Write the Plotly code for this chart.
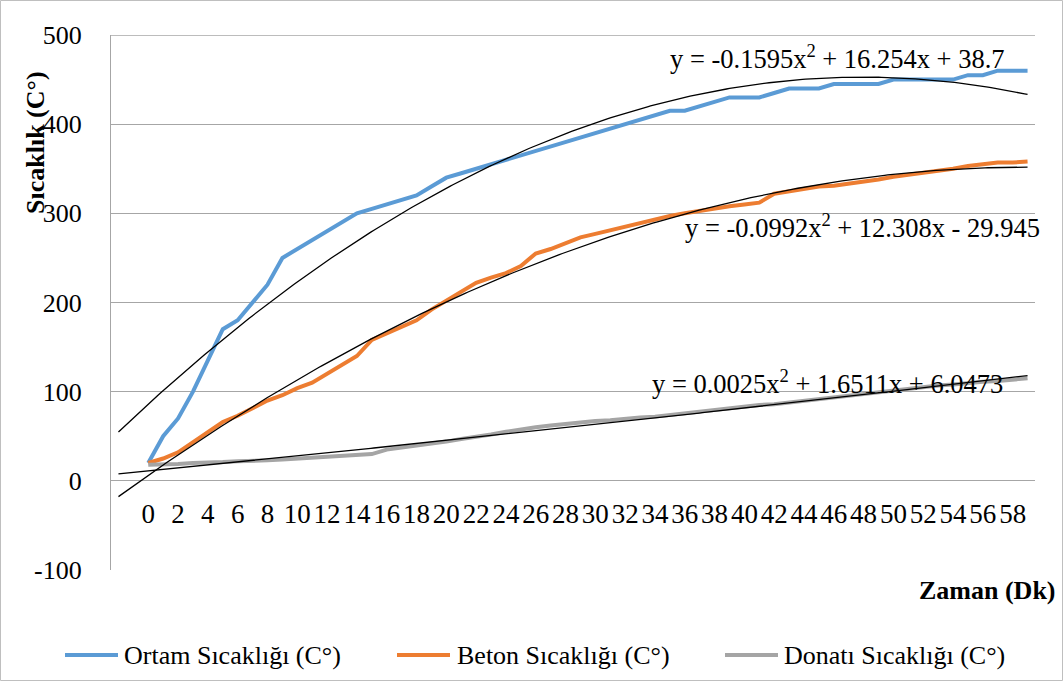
import numpy as np
import plotly.graph_objects as go

# ---- data ----
zaman = list(range(0, 60))
ortam = [20, 50, 70, 100, 135, 170, 180, 200, 220, 250,
         260, 270, 280, 290, 300, 305, 310, 315, 320, 330,
         340, 345, 350, 355, 360, 365, 370, 375, 380, 385,
         390, 395, 400, 405, 410, 415, 415, 420, 425, 430,
         430, 430, 435, 440, 440, 440, 445, 445, 445, 445,
         450, 450, 450, 450, 450, 455, 455, 460, 460, 460]
beton = [20, 25, 32, 43, 55, 66, 73, 82, 90, 96,
         104, 110, 120, 130, 140, 158, 165, 172, 180, 192,
         202, 213, 222, 228, 233, 241, 255, 260, 266, 273,
         277, 281, 285, 289, 294, 297, 300, 303, 306, 308,
         310, 312, 322, 325, 327, 330, 331, 333, 336, 338,
         341, 343, 345, 348, 350, 353, 355, 357, 357, 358]
donati = [18, 18, 19, 20, 20, 21, 22, 22, 23, 24,
          25, 26, 26, 27, 28, 30, 35, 37, 39, 42,
          44, 47, 49, 52, 55, 58, 60, 62, 64, 66,
          67, 68, 70, 71, 72, 74, 75, 77, 79, 81,
          83, 85, 86, 88, 90, 92, 94, 96, 98, 100,
          102, 104, 106, 107, 108, 110, 111, 112, 114, 115]

series_names = ["Ortam Sıcaklığı (C°)", "Beton Sıcaklığı (C°)", "Donatı Sıcaklığı (C°)"]
series_colors = ["#5B9BD5", "#ED7D31", "#A5A5A5"]

# polynomial trendline coefficients (a, b, c) as shown on chart, x = category number
trend_coefs = [(-0.1595, 16.254, 38.7), (-0.0992, 12.308, -29.945), (0.0025, 1.6511, 6.0473)]
trend_texts = ["y = -0.1595x<sup>2</sup> + 16.254x + 38.7",
               "y = -0.0992x<sup>2</sup> + 12.308x - 29.945",
               "y = 0.0025x<sup>2</sup> + 1.6511x + 6.0473"]
x_offset = 3          # excel category number = label + 3 (two leading empty categories)
trend_start = -2      # trendline drawn from first (empty) category

tick_labels = list(range(0, 60, 2))
y_ticks = [-100, 0, 100, 200, 300, 400, 500]

FONT = "Liberation Serif, Times New Roman, serif"
GRID = "#A6A6A6"

# plot-area geometry in pixels (for paper-coordinate placement of extras)
L, R, T, B = 111, 29, 35, 112
PW, PH = 1064 - L - R, 682 - T - B


def px(xp):
    return (xp - L) / PW


def py(yp):
    return 1 - (yp - T) / PH


fig = go.Figure()

for name, col, vals in zip(series_names, series_colors, [ortam, beton, donati]):
    fig.add_trace(go.Scatter(x=zaman, y=vals, mode="lines", name=name,
                             line=dict(color=col, width=4), showlegend=False))

xt = np.linspace(trend_start, zaman[-1], 300)
for (a, b, c) in trend_coefs:
    xe = xt + x_offset
    fig.add_trace(go.Scatter(x=xt, y=a * xe ** 2 + b * xe + c, mode="lines",
                             line=dict(color="black", width=1.3),
                             showlegend=False, hoverinfo="skip"))

# equation labels
eq_pos = [(668, 57), (683, 226), (650, 382)]
for (xp_, yp_), txt in zip(eq_pos, trend_texts):
    fig.add_annotation(x=px(xp_), y=py(yp_), xref="paper", yref="paper", text=txt,
                       showarrow=False, xanchor="left", yanchor="middle",
                       font=dict(family=FONT, size=26.5, color="black"))

# custom legend (line sample + text)
leg_y = 655
leg_items = [(65, 118, 122), (397, 450, 455), (725, 778, 782)]
for (x0, x1, xt0), name, col in zip(leg_items, series_names, series_colors):
    fig.add_shape(type="line", xref="paper", yref="paper", x0=px(x0), x1=px(x1),
                  y0=py(leg_y), y1=py(leg_y), line=dict(color=col, width=4))
    fig.add_annotation(x=px(xt0), y=py(leg_y), xref="paper", yref="paper", text=name,
                       showarrow=False, xanchor="left", yanchor="middle",
                       font=dict(family=FONT, size=26, color="black"))

fig.update_layout(
    width=1064, height=682,
    margin=dict(l=L, r=R, t=T, b=B, autoexpand=False),
    paper_bgcolor="white", plot_bgcolor="white",
    font=dict(family=FONT, size=26, color="black"),
    showlegend=False,
)

fig.update_xaxes(range=[-2.5, 59.5], tickmode="array", tickvals=tick_labels,
                 ticktext=[str(t) for t in tick_labels],
                 showgrid=False, zeroline=False, showline=False,
                 anchor="free", position=100 / 600,
                 ticks="", ticklabelstandoff=14,
                 tickfont=dict(family=FONT, size=27, color="black"))
fig.update_yaxes(range=[-100, 500], tickmode="array", tickvals=y_ticks,
                 ticktext=[str(v) for v in y_ticks],
                 showgrid=True, gridcolor=GRID, gridwidth=1.3,
                 zeroline=False, showline=True, linecolor=GRID, linewidth=1.3,
                 ticks="", ticklabelstandoff=23,
                 tickfont=dict(family=FONT, size=26, color="black"))

# axis titles
fig.add_annotation(x=px(35), y=py(143), xref="paper", yref="paper", text="<b>Sıcaklık (C°)</b>",
                   textangle=-90, showarrow=False, xanchor="center", yanchor="middle",
                   font=dict(family=FONT, size=26, color="black"))
fig.add_annotation(x=px(1058), y=py(590), xref="paper", yref="paper", text="<b>Zaman (Dk)</b>",
                   showarrow=False, xanchor="right", yanchor="middle",
                   font=dict(family=FONT, size=26, color="black"))

# top gridline / chart border
fig.add_shape(type="line", xref="paper", yref="y", x0=0, x1=1, y0=500, y1=500,
              line=dict(color=GRID, width=1.3))
fig.add_shape(type="rect", xref="paper", yref="paper",
              x0=px(0.5), x1=px(1062.5), y0=py(680.5), y1=py(0.5),
              line=dict(color="#BFBFBF", width=1))

fig.write_html("out.html", config={"displayModeBar": False},
               post_script="document.body.style.margin='0';")
